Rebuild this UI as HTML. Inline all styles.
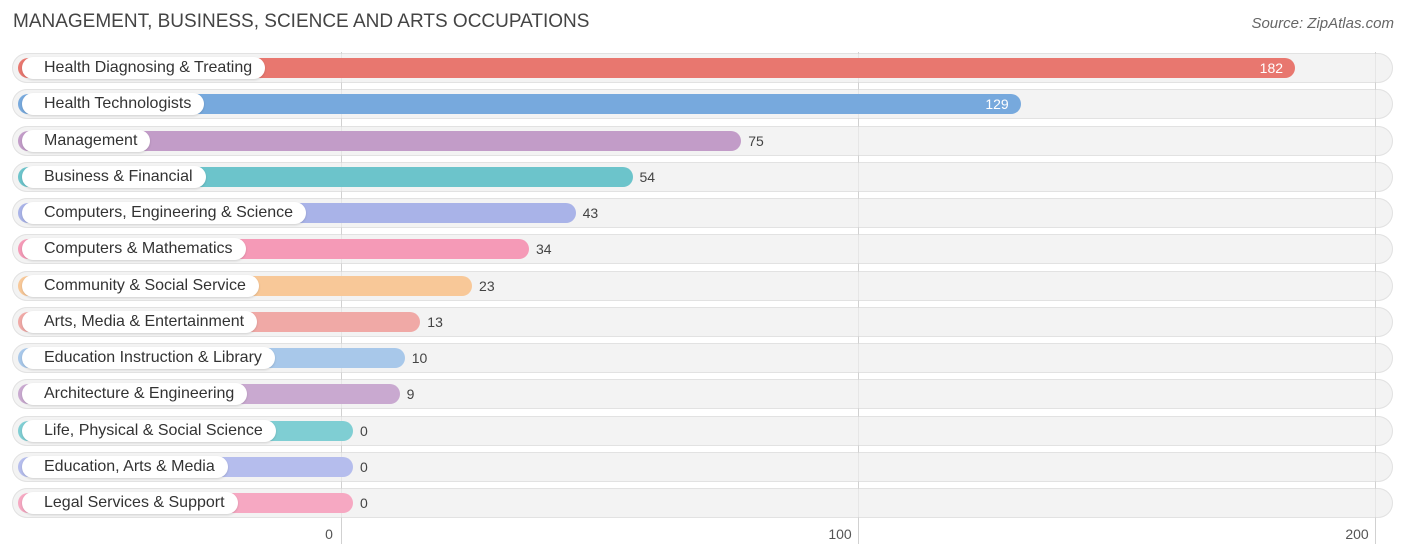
<!DOCTYPE html>
<html><head><meta charset="utf-8"><style>
body{margin:0;background:#fff;font-family:"Liberation Sans",sans-serif;}
#wrap{position:relative;width:1406px;height:559px;overflow:hidden;}
.title{position:absolute;left:13px;top:11px;font-size:19px;color:#444;}
.src{position:absolute;right:12px;top:15px;font-size:15px;color:#666;font-style:italic;}
.grid{position:absolute;top:52px;height:492px;width:1px;background:#ddd;}
.tick{position:absolute;top:526px;font-size:14px;color:#555;transform:translateX(-50%);}
.row{position:absolute;left:12px;width:1381px;height:30px;border-radius:15px;background:#f3f3f3;box-shadow:0 0 0 1px #e2e2e2 inset;}
.bar{position:absolute;left:18px;height:20px;border-radius:10px;}
.lbl{position:absolute;left:22px;height:22px;line-height:22px;padding:0 13px 0 22px;background:#fff;border-radius:11px;font-size:16px;color:#333;box-shadow:0 1px 2px rgba(0,0,0,.15);}
.val{position:absolute;font-size:14px;line-height:20px;}
</style></head><body>
<div id="wrap">
<div class="title">MANAGEMENT, BUSINESS, SCIENCE AND ARTS OCCUPATIONS</div>
<div class="src">Source: ZipAtlas.com</div>
<div id="plot"></div>
</div>
<script>
const categories=["Health Diagnosing & Treating","Health Technologists","Management","Business & Financial","Computers, Engineering & Science","Computers & Mathematics","Community & Social Service","Arts, Media & Entertainment","Education Instruction & Library","Architecture & Engineering","Life, Physical & Social Science","Education, Arts & Media","Legal Services & Support"];
const values=[182,129,75,54,43,34,23,13,10,9,0,0,0];
const colors=["#E8776F","#77A9DD","#C29CC8","#6CC4CB","#A9B3E8","#F59AB7","#F8C898","#F0A9A6","#A8C8EA","#C9A9D0","#7FCED3","#B5BDED","#F6A8C2"];
const ticks=[0,100,200];
const wrap=document.getElementById('wrap');
function xAxis(v){return 341+v*5.17;}
function barEnd(v){return 353+v*5.176;}
function rowY(i){return 68+i*36.25;}
ticks.forEach(t=>{
  const g=document.createElement('div');g.className='grid';g.style.left=xAxis(t)+'px';
  
  
  wrap.appendChild(g);
});
categories.forEach((c,i)=>{
  const cy=rowY(i);
  const r=document.createElement('div');r.className='row';r.style.top=(cy-15)+'px';
  
  
  wrap.appendChild(r);
});
ticks.forEach(t=>{
  const g=document.createElement('div');g.className='grid';g.style.left=xAxis(t)+'px';g.style.background='rgba(0,0,0,0.05)';
  
  
  wrap.appendChild(g);
  const l=document.createElement('div');l.className='tick';l.textContent=t;
  l.style.left=(t===0?xAxis(t)-12:xAxis(t)-18)+'px';
  
  
  wrap.appendChild(l);
});
categories.forEach((c,i)=>{
  const cy=rowY(i),v=values[i],e=barEnd(v);
  const b=document.createElement('div');b.className='bar';
  b.style.top=(cy-10)+'px';b.style.width=(e-18)+'px';b.style.background=colors[i];
  
  
  wrap.appendChild(b);
  const l=document.createElement('div');l.className='lbl';l.style.top=(cy-11)+'px';l.textContent=c;
  
  
  wrap.appendChild(l);
  const t=document.createElement('div');t.className='val';t.textContent=v;t.style.top=(cy-10)+'px';
  if(v>100){t.style.left=(e-60)+'px';t.style.width='48px';t.style.textAlign='right';t.style.color='#fff';}
  else{t.style.left=(e+7)+'px';t.style.color='#444';}
  
  
  wrap.appendChild(t);
});
</script>
</body></html>
